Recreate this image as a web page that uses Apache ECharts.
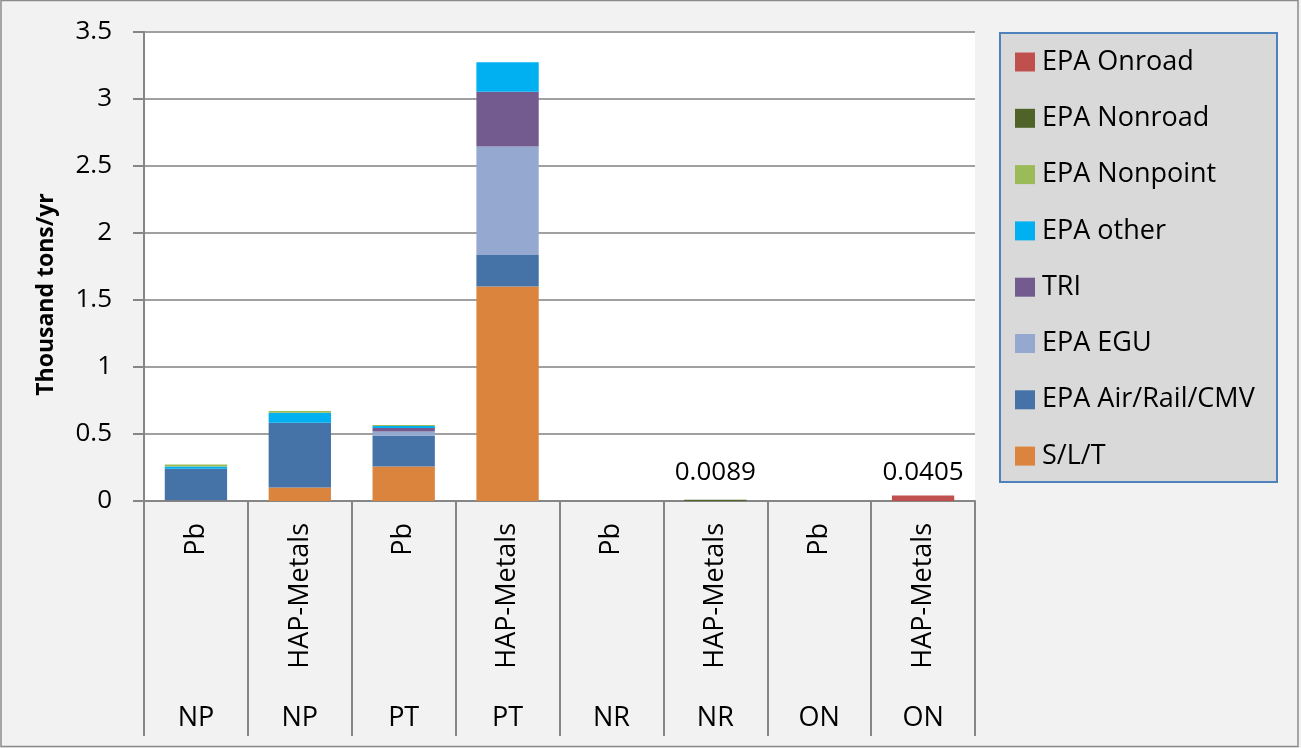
<!DOCTYPE html>
<html>
<head>
<meta charset="utf-8">
<script src="https://cdn.jsdelivr.net/npm/echarts@6/dist/echarts.min.js"></script>
<style>
  html, body { margin: 0; padding: 0; background: #f2f2f2; }
  #chart { width: 1301px; height: 748px; }
</style>
</head>
<body>
<div id="chart"></div>
<script>
// category labels (two levels)
var species = ['Pb', 'HAP-Metals', 'Pb', 'HAP-Metals', 'Pb', 'HAP-Metals', 'Pb', 'HAP-Metals'];
var sectors = ['NP', 'NP', 'PT', 'PT', 'NR', 'NR', 'ON', 'ON'];

// thousand tons/yr, stacked bottom -> top
var slt      = [0.003, 0.10, 0.257, 1.60, 0, 0, 0, 0];
var airRail  = [0.237, 0.484, 0.232, 0.235, 0, 0, 0, 0];
var egu      = [0, 0, 0.03, 0.81, 0, 0, 0, 0];
var tri      = [0, 0, 0.026, 0.41, 0, 0, 0, 0];
var other    = [0.017, 0.075, 0.015, 0.22, 0, 0, 0, 0];
var nonpoint = [0.015, 0.013, 0.008, 0, 0, 0, 0, 0];
var nonroad  = [0, 0, 0, 0, 0, 0.0089, 0, 0];
var onroad   = [0, 0, 0, 0, 0, 0, 0, 0.0405];

var yTicks = [0, 0.5, 1, 1.5, 2, 2.5, 3, 3.5];

var font = '"Open Sans", "Noto Sans", sans-serif';

function bar(name, data, color, labelDist) {
    var s = {
        name: name,
        type: 'bar',
        stack: 'total',
        barWidth: '60%',
        data: data,
        itemStyle: { color: color }
    };
    if (labelDist != null) {
        s.label = {
            show: true,
            position: 'top',
            distance: labelDist,
            color: '#000',
            fontFamily: font,
            fontSize: 26,
            formatter: function (p) { return p.value > 0 ? String(p.value) : ''; }
        };
    }
    return s;
}

var myChart = echarts.init(document.getElementById('chart'));
var option = {
    backgroundColor: '#f2f2f2',
    animation: false,
    textStyle: { fontFamily: font },
    graphic: [
        {
            type: 'rect', silent: true,
            shape: { x: 1, y: 0.5, width: 1297, height: 746 },
            style: { fill: null, stroke: '#8c8c8c', lineWidth: 1.5 }
        },
        {
            type: 'rect', silent: true,
            shape: { x: 1000, y: 33, width: 277, height: 449 },
            style: { fill: '#d9d9d9', stroke: '#4f81bd', lineWidth: 2 }
        }
    ],
    legend: {
        orient: 'vertical',
        left: 1015,
        top: 47,
        padding: 0,
        itemWidth: 20,
        itemHeight: 19,
        itemGap: 26.3,
        icon: 'rect',
        selectedMode: false,
        textStyle: { fontFamily: font, fontSize: 27, color: '#000', lineHeight: 30, padding: [0, 0, 0, 2] },
        data: ['EPA Onroad', 'EPA Nonroad', 'EPA Nonpoint', 'EPA other', 'TRI', 'EPA EGU', 'EPA Air/Rail/CMV', 'S/L/T']
    },
    grid: {
        left: 144,
        right: 326,
        top: 32,
        bottom: 247,
        show: true,
        backgroundColor: '#ffffff',
        borderWidth: 0
    },
    xAxis: [
        {
            type: 'category',
            data: species,
            position: 'bottom',
            axisLine: { lineStyle: { color: '#868686', width: 2 } },
            axisTick: { show: true, length: 235, interval: 0, lineStyle: { color: '#868686', width: 2 } },
            axisLabel: { rotate: 90, margin: 22, interval: 0, color: '#000', fontFamily: font, fontSize: 27 }
        },
        {
            type: 'category',
            data: sectors,
            position: 'bottom',
            offset: 196,
            axisLine: { show: false },
            axisTick: { show: false },
            axisLabel: { margin: 8, interval: 0, color: '#000', fontFamily: font, fontSize: 27 }
        }
    ],
    yAxis: {
        type: 'value',
        min: 0,
        max: 3.5,
        interval: 0.5,
        name: 'Thousand tons/yr',
        nameLocation: 'middle',
        nameGap: 86,
        nameTextStyle: { fontFamily: font, fontSize: 23, fontWeight: 'bold', color: '#000', padding: [0, 56, 0, 0] },
        axisLine: { show: true, lineStyle: { color: '#868686', width: 2 } },
        axisTick: { show: true, length: 11, lineStyle: { color: '#868686', width: 2 } },
        axisLabel: {
            margin: 32, color: '#000', fontFamily: font, fontSize: 26,
            formatter: function (v) { return yTicks.indexOf(v) >= 0 ? String(v) : ''; }
        },
        splitLine: { lineStyle: { color: '#a0a0a0', width: 2 } }
    },
    series: [
        bar('S/L/T', slt, '#db843d'),
        bar('EPA Air/Rail/CMV', airRail, '#4572a7'),
        bar('EPA EGU', egu, '#95a9d0'),
        bar('TRI', tri, '#735a8f'),
        bar('EPA other', other, '#00b0f0'),
        bar('EPA Nonpoint', nonpoint, '#9bbb59'),
        bar('EPA Nonroad', nonroad, '#4f6228', 14),
        bar('EPA Onroad', onroad, '#c0504d', 10)
    ]
};
myChart.setOption(option);
</script>
</body>
</html>
